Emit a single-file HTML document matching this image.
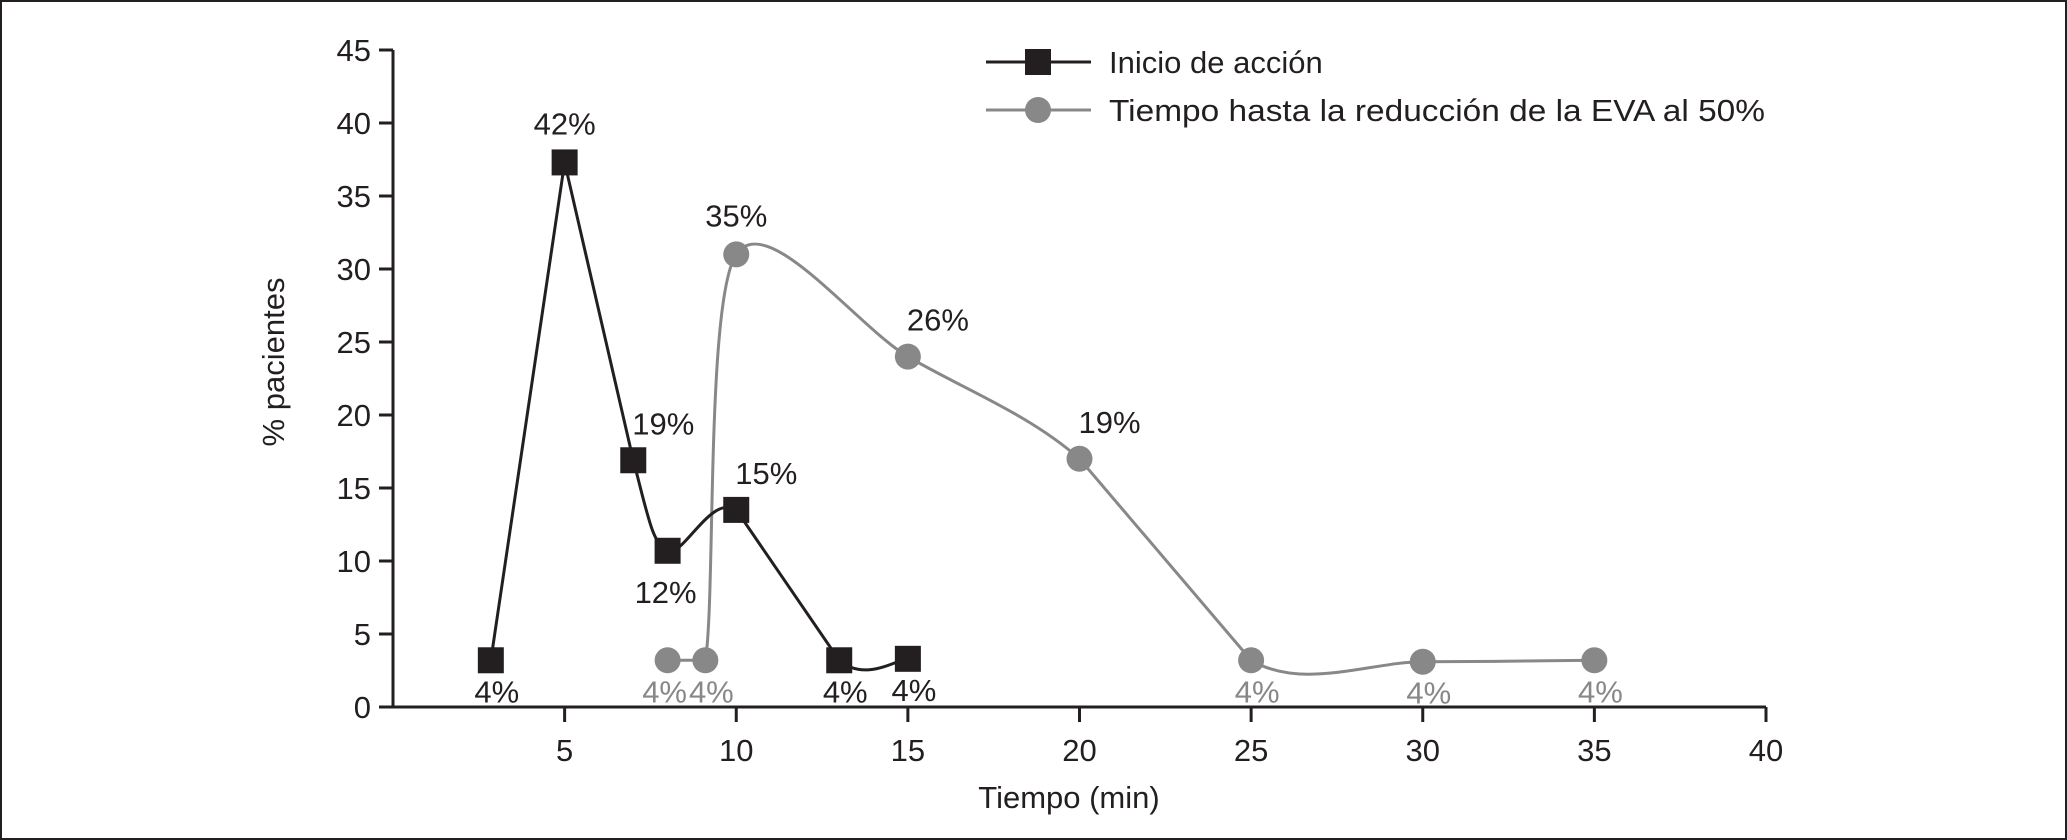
<!DOCTYPE html>
<html><head><meta charset="utf-8"><style>
html,body{margin:0;padding:0;background:#fff}
svg{display:block}
text{font-family:"Liberation Sans",sans-serif}
</style></head><body>
<svg id="chart" width="2067" height="840" viewBox="0 0 2067 840" xmlns="http://www.w3.org/2000/svg">
<rect x="1" y="1" width="2065" height="838" fill="#fff" stroke="#231f20" stroke-width="2"/>
<g id="axes"></g>
<g id="series"></g>
<g>
<g>
<line x1="986" y1="62" x2="1091" y2="62" stroke="#231f20" stroke-width="3"/>
<rect x="1025" y="49" width="26" height="26" fill="#231f20"/>
<text x="1109" y="73" font-size="31" fill="#231f20">Inicio de acción</text></g>
<g>
<line x1="986" y1="110" x2="1091" y2="110" stroke="#888" stroke-width="3"/>
<circle cx="1038" cy="110" r="13" fill="#888"/>
<text x="1109" y="121" font-size="31" fill="#231f20" textLength="656" lengthAdjust="spacingAndGlyphs">Tiempo hasta la reducción de la EVA al 50%</text></g>
</g>
<text transform="translate(284,362) rotate(-90)" text-anchor="middle" font-size="31" fill="#231f20">% pacientes</text>
<text x="1069" y="808" text-anchor="middle" font-size="31" fill="#231f20">Tiempo (min)</text>
</svg>
<script>
const xTicks=[5,10,15,20,25,30,35,40];
const yTicks=[0,5,10,15,20,25,30,35,40,45];
const inicioX=[2.85,5,7,8,10,13,15];
const inicioY=[3.2,37.3,16.9,10.7,13.5,3.2,3.3];
const inicioLabels=["4%","42%","19%","12%","15%","4%","4%"];
const evaX=[8,9.1,10,15,20,25,30,35];
const evaY=[3.2,3.2,31,24,17,3.2,3.1,3.2];
const evaLabels=["4%","4%","35%","26%","19%","4%","4%","4%"];
const inicioLabelPos=["below","above","aboveRight","belowLeft","aboveRight","below","below"];
const evaLabelPos=["belowLeft2","below","above","aboveRight","aboveRight","below","below","below"];
const inicioCurved=[false,false,true,true,false,true];
const evaCurved=[false,true,true,true,false,true,true];

const X0=393,X1=1766,Y0=707,Y1=50;
function sx(v){return X0+(v/40)*(X1-X0);}
function sy(v){return Y0-(v/45)*(Y0-Y1);}
const NS="http://www.w3.org/2000/svg";
function mk(tag,attrs,parent){const e=document.createElementNS(NS,tag);for(const k in attrs)e.setAttribute(k,attrs[k]);parent.appendChild(e);return e;}
const axes=document.getElementById('axes');
let yl=mk('line',{x1:X0,y1:Y1,x2:X0,y2:Y0,stroke:'#231f20','stroke-width':3},axes);


let xl=mk('line',{x1:X0,y1:Y0,x2:X1,y2:Y0,stroke:'#231f20','stroke-width':3},axes);


yTicks.forEach(t=>{
  const y=sy(t);
  let l=mk('line',{x1:X0-14,y1:y,x2:X0,y2:y,stroke:'#231f20','stroke-width':3},axes);
  
  
  let tx=mk('text',{x:X0-22,y:y+11,'text-anchor':'end','font-size':31,fill:'#231f20'},axes);
  tx.textContent=t;
  
  
});
xTicks.forEach(t=>{
  const x=sx(t);
  let l=mk('line',{x1:x,y1:Y0,x2:x,y2:Y0+15,stroke:'#231f20','stroke-width':3},axes);
  
  
  let tx=mk('text',{x:x,y:Y0+54,'text-anchor':'middle','font-size':31,fill:'#231f20'},axes);
  tx.textContent=t;
  
  
});
function path(xs,ys,curved){
  const p=xs.map((x,i)=>[sx(x),sy(ys[i])]);
  let d='M'+p[0][0]+','+p[0][1];
  const t=0.3;
  for(let i=0;i<p.length-1;i++){
    const p1=p[i],p2=p[i+1];
    if(!curved[i]){d+=' L'+p2[0]+','+p2[1];continue;}
    const p0=p[Math.max(i-1,0)],p3=p[Math.min(i+2,p.length-1)];
    const c1=[p1[0]+(p2[0]-p0[0])*t/2,p1[1]+(p2[1]-p0[1])*t/2];
    const c2=[p2[0]-(p3[0]-p1[0])*t/2,p2[1]-(p3[1]-p1[1])*t/2];
    d+=' C'+c1[0]+','+c1[1]+' '+c2[0]+','+c2[1]+' '+p2[0]+','+p2[1];
  }
  return d;
}
const g=document.getElementById('series');
function labelXY(x,y,pos){
  if(pos==='above')return [x,y-28];
  if(pos==='below')return [x+6,y+42];
  if(pos==='belowLeft2')return [x-3,y+42];
  if(pos==='aboveRight')return [x+30,y-26];
  if(pos==='belowLeft')return [x-2,y+52];
}
function drawSeries(xs,ys,labels,pos,curved,color,shape,name,labelColor){
  let ln=mk('path',{d:path(xs,ys,curved),fill:'none',stroke:color,'stroke-width':3},g);
  
  
  xs.forEach((xv,i)=>{
    const x=sx(xv),y=sy(ys[i]);
    let m;
    if(shape==='square')m=mk('rect',{x:x-13,y:y-13,width:26,height:26,fill:color},g);
    else m=mk('circle',{cx:x,cy:y,r:13,fill:color},g);
    
    
    const [lx,ly]=labelXY(x,y,pos[i]);
    const lc=pos[i].startsWith('below')&&pos[i]!=='belowLeft'?labelColor:'#231f20';
    let tx=mk('text',{x:lx,y:ly,'text-anchor':'middle','font-size':31,fill:lc},g);
    tx.textContent=labels[i];
    
    
  });
}
drawSeries(evaX,evaY,evaLabels,evaLabelPos,evaCurved,'#888','circle','eva','#888');
drawSeries(inicioX,inicioY,inicioLabels,inicioLabelPos,inicioCurved,'#231f20','square','inicio','#231f20');
</script>
</body></html>
